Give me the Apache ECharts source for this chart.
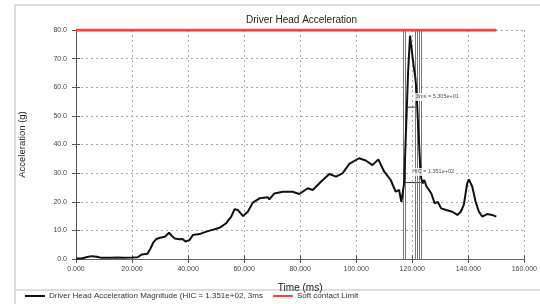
<!DOCTYPE html>
<html>
<head>
<meta charset="utf-8">
<script src="https://cdn.jsdelivr.net/npm/echarts@6/dist/echarts.min.js"></script>
<style>
  html, body { margin: 0; padding: 0; background: #fff; }
  #chart { width: 540px; height: 304px; }
</style>
</head>
<body>
<div id="chart"></div>
<script>
// time (ms) / head acceleration (g)
const timeMs = [0, 2, 4, 5.6, 7.5, 9, 12, 15, 17, 20, 22, 23.5, 25.5, 26.5, 27.5, 28.7, 30, 31.7, 33.2, 34,
  35.2, 37, 38, 39.1, 40.5, 41.7, 44.1, 46, 47.7, 49.5, 51.2, 53.6, 55.4, 56.6, 57.8, 58.4, 59.6, 61.3, 63.1, 65.5,
  68.4, 69, 70.8, 73.8, 77.3, 79.7, 82.7, 84.5, 87.4, 90.4, 92.8, 95.1, 97.5, 101, 103.4, 105.8, 107.9, 110, 112.3, 114.1,
  115.3, 116.1, 117.1, 117.7, 118.5, 119.2, 120.6, 121.1, 121.5, 122.8, 123.2, 123.8, 124.3, 125, 126.8, 128, 129.1, 130.3, 132.1, 134.3,
  136.1, 137.3, 138.4, 139.6, 140.2, 141.4, 142.6, 143.8, 145, 146.7, 148.5, 150];
const accelG = [0.2, 0.2, 0.7, 1.0, 0.8, 0.4, 0.4, 0.5, 0.4, 0.5, 0.6, 1.6, 1.8, 3.5, 5.6, 7.0, 7.4, 7.8, 9.2, 8.3,
  7.2, 6.9, 7.0, 6.1, 6.6, 8.4, 8.7, 9.4, 9.9, 10.4, 10.9, 12.5, 14.8, 17.4, 17.1, 17.0, 15.0, 16.5, 19.7, 21.2,
  21.6, 20.8, 22.9, 23.5, 23.5, 22.7, 24.7, 24.1, 27.0, 29.7, 28.8, 29.9, 33.2, 35.2, 34.4, 32.8, 34.8, 30.5, 27.6, 23.5,
  24.1, 20.0, 26.4, 43, 65, 78, 66.6, 63.5, 58.5, 33, 28.2, 26.4, 27.6, 25.5, 22.9, 19.4, 20, 17.7, 17.1, 16.5,
  15.4, 16.5, 18.9, 26.4, 27.8, 25.3, 20, 16.5, 14.8, 15.7, 15.4, 14.8];

const limitTime = [0, 150];
const limitG = [80, 80];

// HIC window markers
const markerTimes = [116.7, 117.4, 121.0, 121.7, 122.4, 123.1];
const ms3Time = [117.4, 121.0];
const ms3G = [53.05, 53.05];
const hicTime = [117.2, 123.1];
const hicG = [26.7, 26.7];
const noteTime = [121.0, 119.6];
const noteG = [56.6, 30.4];
const noteText = ['3ms = 5.305e+01', 'HIC = 1.351e+02'];

const FONT = 'Liberation Sans';
const pairs = (xs, ys) => xs.map((x, i) => [x, ys[i]]);

const chart = echarts.init(document.getElementById('chart'), null, { renderer: 'canvas' });

const axisCommon = {
    axisLine: { show: true, lineStyle: { color: '#555', width: 1 } },
    axisTick: { show: true, inside: false, length: 4, lineStyle: { color: '#555' } },
    splitLine: { show: false },
};

chart.setOption({
    animation: false,
    backgroundColor: '#fff',
    textStyle: { fontFamily: FONT },
    title: {
        text: 'Driver Head Acceleration',
        left: 241, top: 10,
        textStyle: { fontSize: 10, fontWeight: 'normal', color: '#222', fontFamily: FONT },
    },
    graphic: [
        { type: 'rect', shape: { x: 15, y: 5, width: 540, height: 320 }, style: { fill: 'none', stroke: '#ddd', lineWidth: 2 }, silent: true },
        { type: 'line', shape: { x1: 15, y1: 290, x2: 540, y2: 290 }, style: { stroke: '#ddd', lineWidth: 2 }, silent: true },
    ],
    legend: {
        left: 25, top: 292, padding: 0,
        itemWidth: 20, itemHeight: 2, itemGap: 10,
        icon: 'rect',
        textStyle: { fontSize: 8, color: '#333', fontFamily: FONT, padding: [0, 0, 0, -1] },
        data: ['Driver Head Acceleration Magnitude (HIC = 1.351e+02, 3ms', 'Soft contact Limit'],
    },
    grid: { left: 76, right: 15, top: 30, bottom: 45 },
    xAxis: [{
        ...axisCommon,
        type: 'value', min: 0, max: 160, interval: 20,
        name: 'Time (ms)', nameLocation: 'middle', nameGap: 24,
        nameTextStyle: { fontSize: 10, color: '#222', fontFamily: FONT },
        axisLabel: { fontSize: 7, color: '#444', margin: 7, formatter: v => v.toFixed(3) },
        splitLine: { show: true, lineStyle: { color: '#aaa', type: [2, 3], width: 1 } },
    }, {
        ...axisCommon,
        type: 'value', min: 0, max: 160, interval: 20, position: 'top',
        axisLine: { show: true, lineStyle: { color: '#666', width: 1 } },
        axisLabel: { show: false },
    }],
    yAxis: [{
        ...axisCommon,
        type: 'value', min: 0, max: 80, interval: 10,
        name: 'Acceleration (g)', nameLocation: 'middle', nameGap: 49,
        nameTextStyle: { fontSize: 9.5, color: '#222', fontFamily: FONT },
        axisLabel: { fontSize: 7, color: '#444', margin: 9, formatter: v => v.toFixed(1) },
        splitLine: { show: true, lineStyle: { color: '#aaa', type: [2, 3], width: 1 } },
    }, {
        ...axisCommon,
        type: 'value', min: 0, max: 80, interval: 10, position: 'right',
        axisLabel: { show: false },
    }],
    series: [
        {
            name: 'Driver Head Acceleration Magnitude (HIC = 1.351e+02, 3ms',
            type: 'line', data: pairs(timeMs, accelG),
            symbol: 'none', color: '#111',
            lineStyle: { color: '#111', width: 2 },
            z: 5,
            markLine: {
                silent: true, symbol: 'none',
                label: { show: false },
                lineStyle: { color: '#777', width: 1, type: 'solid' },
                data: markerTimes.map(t => ({ xAxis: t })),
            },
        },
        {
            name: 'Soft contact Limit',
            type: 'line', data: pairs(limitTime, limitG),
            symbol: 'none', color: '#ff4040',
            lineStyle: { color: '#ff4040', width: 3 },
            z: 6,
        },
        {
            type: 'line', data: pairs(ms3Time, ms3G),
            symbol: 'none', lineStyle: { color: '#333', width: 1 }, z: 4,
        },
        {
            type: 'line', data: pairs(hicTime, hicG),
            symbol: 'none', lineStyle: { color: '#333', width: 1 }, z: 4,
        },
        {
            type: 'scatter', symbolSize: 0, z: 7,
            data: noteTime.map((t, i) => ({ value: [t, noteG[i]], name: noteText[i] })),
            label: {
                show: true, position: 'right', distance: 0,
                formatter: p => p.name,
                fontSize: 5.5, color: '#222', fontFamily: FONT,
                backgroundColor: '#fff', padding: [1, 1],
            },
        },
    ],
});
</script>
</body>
</html>
